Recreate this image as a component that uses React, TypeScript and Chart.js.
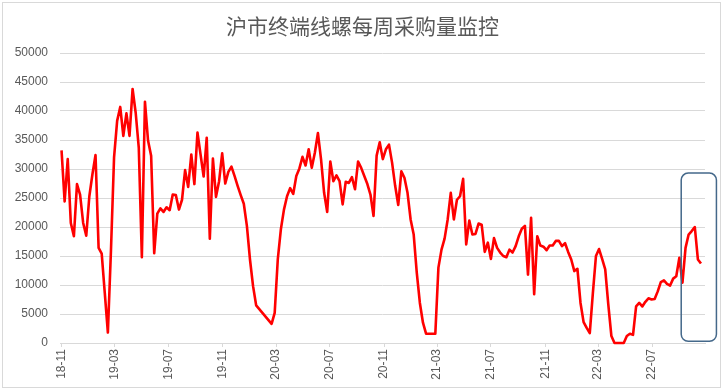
import React, { useEffect, useRef } from "react";
import { Chart, registerables } from "chart.js";

Chart.register(...registerables);

const chartTitle = "沪市终端线螺每周采购量监控";

// first week of the series
const startDate = "2018-11-01";

// x-axis tick labels and the month each one marks
const tickLabels = ["18-11", "19-03", "19-07", "19-11", "20-03", "20-07", "20-11", "21-03", "21-07", "21-11", "22-03", "22-07"];
const tickDates = ["2018-11-01", "2019-03-01", "2019-07-01", "2019-11-01", "2020-03-01", "2020-07-01", "2020-11-01", "2021-03-01", "2021-07-01", "2021-11-01", "2022-03-01", "2022-07-01"];

// weekly purchase volume (null = no report, line bridges the gap)
const weeklyVolume: (number | null)[] = [
  33200, 24400, 31700, 20700, 18400, 27400, 25600, 20700, 18500, 25300,
  29100, 32400, 16400, 15400, 8600, 1800, 16000, 32000, 38300, 40700,
  35700, 39600, 35700, 43800, 39700, 33700, 14800, 41600, 34900, 32300,
  15500, 22300, 23200, 22600, 23400, 22900, 25600, 25500, 23000, 24700,
  29800, 26900, 32500, 27400, 36300, 32500, 28700, 35400, 18000, 31800,
  25200, 27900, 32700, 27500, 29500, 30400, 28800, 27100, 25500, 24000,
  20200, 14400, 9800, 6500, null, null, null, null, 3300, 5200,
  14400, 19600, 23000, 25300, 26700, 25700, 28800, 30100, 32100, 30600,
  33400, 30200, 32800, 36200, 31700, 25900, 22600, 31300, 27900, 28900,
  27900, 23900, 27800, 27600, 28600, 26500, 31300, 30200, 28800, 27400,
  25600, 21900, 32300, 34600, 31700, 33400, 34200, 31100, 27100, 23800,
  29600, 28500, 25900, 21300, 18700, 12100, 6900, 3500, 1600, 1600,
  1600, 1600, 13000, 16100, 18000, 21300, 25900, 21300, 24700, 25300,
  28300, 17000, 21100, 18700, 18800, 20600, 20400, 15700, 17300, 14500,
  18100, 16400, 15600, 15000, 14800, 16100, 15600, 16700, 18400, 19700,
  20200, 11800, 21600, 8400, 18400, 16800, 16600, 16000, 16800, 16800,
  17600, 17600, 16700, 17200, 15700, 14400, 12400, 12800, 6900, 3600,
  2600, 1700, 8600, 15000, 16200, 14500, 12700, 6600, 1200, 0,
  0, 0, 0, 1200, 1600, 1400, 6300, 6900, 6300, 7100,
  7700, 7500, 7600, 8900, 10500, 10800, 10200, 9900, 11100, 11500,
  14700, 10400, 16400, 18700, 19300, 20000, 14400, 13700,
];

// y axis range
const yMin = 0;
const yMax = 50000;
const yStep = 5000;

// highlighted recent weeks (rounded box), in week index / volume units
const highlightWeeks = [200.6, 212];
const highlightVolume = [300, 29300];

const DAY = 24 * 3600 * 1000;
const weekOffset = (d: string) => (Date.parse(d) - Date.parse(startDate)) / (7 * DAY);
const tickWeeks = tickDates.map(weekOffset);

const textColor = "#595959";
const gridColor = "#d9d9d9";
const numFont = { family: "'Liberation Sans', Arial, sans-serif", size: 12 };

const decorPlugin = {
  id: "decor",
  beforeDraw(chart: any) {
    const ctx = chart.ctx;
    ctx.save();
    ctx.strokeStyle = gridColor;
    ctx.lineWidth = 1;
    ctx.strokeRect(2.5, 2.5, chart.width - 5, chart.height - 5);
    ctx.fillStyle = textColor;
    ctx.font = "normal 21px 'Noto Sans CJK SC', sans-serif";
    ctx.textAlign = "center";
    ctx.textBaseline = "middle";
    ctx.fillText(chartTitle, chart.width / 2 + 1, 26);
    ctx.restore();
  },
  afterDatasetsDraw(chart: any) {
    const { ctx, scales } = chart;
    const x0 = scales.x.getPixelForValue(highlightWeeks[0]);
    const x1 = scales.x.getPixelForValue(highlightWeeks[1]);
    const y0 = scales.y.getPixelForValue(highlightVolume[1]);
    const y1 = scales.y.getPixelForValue(highlightVolume[0]);
    const r = 7;
    ctx.save();
    ctx.strokeStyle = "#44688a";
    ctx.lineWidth = 1.5;
    ctx.beginPath();
    ctx.moveTo(x0 + r, y0);
    ctx.lineTo(x1 - r, y0);
    ctx.arcTo(x1, y0, x1, y0 + r, r);
    ctx.lineTo(x1, y1 - r);
    ctx.arcTo(x1, y1, x1 - r, y1, r);
    ctx.lineTo(x0 + r, y1);
    ctx.arcTo(x0, y1, x0, y1 - r, r);
    ctx.lineTo(x0, y0 + r);
    ctx.arcTo(x0, y0, x0 + r, y0, r);
    ctx.closePath();
    ctx.stroke();
    ctx.restore();
  },
};

export default function App() {
  const canvasRef = useRef<HTMLCanvasElement | null>(null);

  useEffect(() => {
    const canvas = canvasRef.current;
    if (!canvas) return;
    const points = weeklyVolume.map((v, i) => ({ x: i, y: v }));
    const chart = new Chart(canvas, {
      type: "line",
      data: {
        datasets: [
          {
            data: points as any,
            borderColor: "#ff0000",
            backgroundColor: "#ff0000",
            borderWidth: 2.6,
            pointRadius: 0,
            tension: 0,
            spanGaps: true,
            borderJoinStyle: "round",
            clip: false as any,
          },
        ],
      },
      options: {
        responsive: false,
        animation: false,
        devicePixelRatio: 1,
        layout: { padding: { top: 53, right: 18, bottom: 7, left: 0 } },
        plugins: {
          legend: { display: false },
          tooltip: { enabled: false },
          title: { display: false },
        },
        scales: {
          x: {
            type: "linear",
            min: -0.5,
            max: weeklyVolume.length + 0.3,
            afterBuildTicks: (scale: any) => {
              scale.ticks = tickWeeks.map((v) => ({ value: v }));
            },
            afterFit: (scale: any) => {
              scale.height = 40;
            },
            ticks: {
              autoSkip: false,
              minRotation: 90,
              maxRotation: 90,
              padding: 2,
              color: textColor,
              font: numFont,
              callback: (_v: any, i: number) => tickLabels[i],
            },
            grid: { drawOnChartArea: false, drawTicks: true, tickLength: 4, color: gridColor },
            border: { display: true, color: gridColor },
          },
          y: {
            min: yMin,
            max: yMax,
            afterFit: (scale: any) => {
              scale.width = 60;
            },
            ticks: {
              stepSize: yStep,
              padding: 12,
              color: textColor,
              font: numFont,
              callback: (v: any) => String(v),
            },
            grid: { color: gridColor, drawTicks: false },
            border: { display: false },
          },
        },
      },
      plugins: [decorPlugin],
    });
    return () => chart.destroy();
  }, []);

  return (
    <div style={{ position: "fixed", left: 0, top: 0, width: 723, height: 390, background: "#fff" }}>
      <canvas ref={canvasRef} width={723} height={390} style={{ display: "block" }} />
    </div>
  );
}
